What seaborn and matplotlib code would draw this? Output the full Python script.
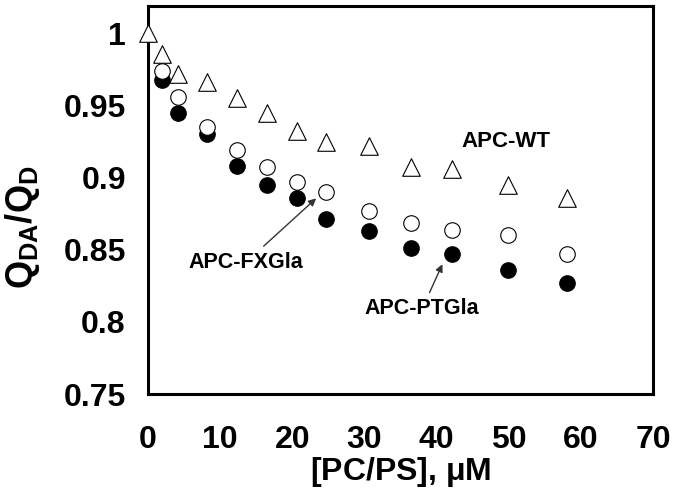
import pandas as pd
import matplotlib
matplotlib.use("Agg")
import matplotlib.pyplot as plt
import seaborn as sns

# 脂質濃度 (uM)
pcps = [2.0, 4.1, 8.2, 12.4, 16.5, 20.6, 24.7, 30.6, 36.5, 42.2, 49.9, 58.1]

# QDA/QD の値
wt_x = [0.0] + pcps
wt_y = [1.0, 0.986, 0.972, 0.966, 0.955, 0.945, 0.932, 0.925, 0.922, 0.9075, 0.906, 0.895, 0.886]
fxgla_y = [0.974, 0.956, 0.935, 0.919, 0.9075, 0.897, 0.890, 0.877, 0.8685, 0.864, 0.860, 0.847]
ptgla_y = [0.968, 0.945, 0.930, 0.908, 0.895, 0.886, 0.871, 0.863, 0.851, 0.847, 0.836, 0.827]

xticks = [0, 10, 20, 30, 40, 50, 60, 70]
yticks = [0.75, 0.8, 0.85, 0.9, 0.95, 1.0]
ytick_labels = ['0.75', '0.8', '0.85', '0.9', '0.95', '1']

df_wt = pd.DataFrame({'x': wt_x, 'y': wt_y})
df_fx = pd.DataFrame({'x': pcps, 'y': fxgla_y})
df_pt = pd.DataFrame({'x': pcps, 'y': ptgla_y})

sns.set_style('white')
plt.rcParams['font.family'] = ['Liberation Sans', 'DejaVu Sans']
plt.rcParams['font.weight'] = 'bold'
plt.rcParams['mathtext.fontset'] = 'custom'
plt.rcParams['mathtext.rm'] = 'Liberation Sans:bold'
plt.rcParams['mathtext.it'] = 'Liberation Sans:bold'
plt.rcParams['mathtext.bf'] = 'Liberation Sans:bold'
# 文字色は純黒
for key in ['text.color', 'axes.labelcolor', 'xtick.color', 'ytick.color']:
    plt.rcParams[key] = 'black'

fig = plt.figure(figsize=(6.76, 4.95), dpi=100)
ax = fig.add_axes([0.219, 0.204, 0.747, 0.784])

sns.scatterplot(data=df_pt, x='x', y='y', ax=ax, marker='o', s=125,
                color='black', edgecolor='black', linewidth=0.8, zorder=3)
sns.scatterplot(data=df_fx, x='x', y='y', ax=ax, marker='o', s=125,
                color='white', edgecolor='black', linewidth=0.8, zorder=4)
sns.scatterplot(data=df_wt, x='x', y='y', ax=ax, marker='^', s=160,
                color='white', edgecolor='black', linewidth=0.8, zorder=5, clip_on=False)

ax.set_xlim(0, 70)
ax.set_ylim(0.75, 1.019)
ax.set_xticks(xticks)
ax.set_yticks(yticks)
ax.set_yticklabels(ytick_labels)
ax.tick_params(direction='in', length=12, width=1.6, labelsize=23, colors='black')
ax.tick_params(axis='y', pad=16)
ax.tick_params(axis='x', pad=22)
for lab in ax.get_xticklabels() + ax.get_yticklabels():
    lab.set_fontweight('bold')
for sp in ax.spines.values():
    sp.set_linewidth(2.2)
    sp.set_color('black')

ax.set_xlabel(r'[PC/PS], $\mu$M', fontsize=23, fontweight='bold', labelpad=0)
ax.set_ylabel(r'$\mathregular{Q_{DA}/Q_D}$', fontsize=26, fontweight='bold')
ax.yaxis.set_label_coords(-0.21, 0.43)

# ラベルと矢印
ax.text(49.6, 0.925, 'APC-WT', fontsize=16, fontweight='bold', ha='center', va='center')
ax.annotate('APC-FXGla', xy=(23.3, 0.8856), xytext=(13.5, 0.841), fontsize=15.5,
            fontweight='bold', ha='center', va='center',
            arrowprops=dict(arrowstyle='-|>', color='#333333', lw=1.0,
                            shrinkA=3, shrinkB=0, mutation_scale=11))
ax.annotate('APC-PTGla', xy=(40.8, 0.840), xytext=(38.0, 0.809), fontsize=15.5,
            fontweight='bold', ha='center', va='center',
            arrowprops=dict(arrowstyle='-|>', color='#333333', lw=1.0,
                            shrinkA=2, shrinkB=0, mutation_scale=11))

fig.savefig('out.png', dpi=100)
